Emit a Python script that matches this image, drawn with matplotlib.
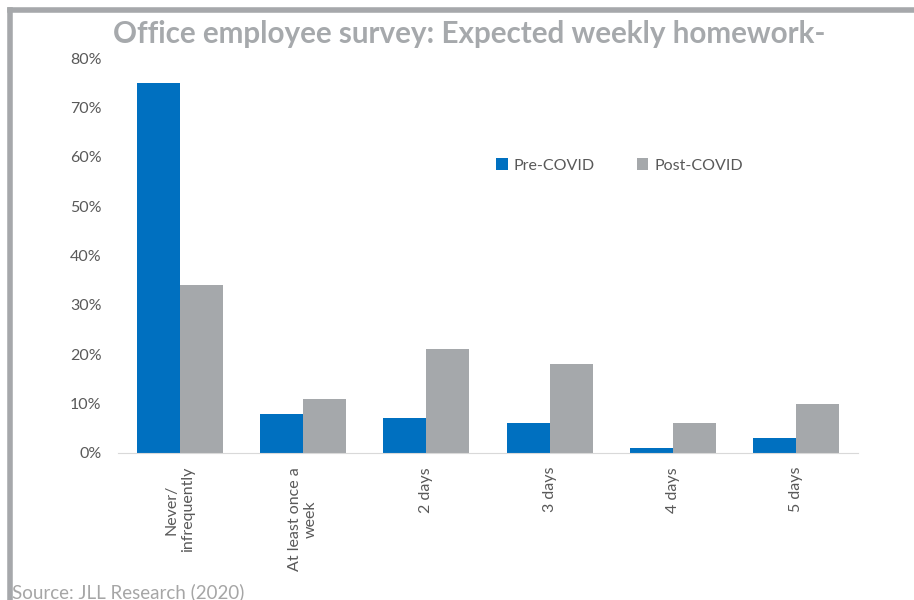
import numpy as np
import matplotlib.pyplot as plt
from matplotlib.lines import Line2D
from matplotlib.ticker import PercentFormatter

categories = ['Never/\ninfrequently', 'At least once a\nweek', '2 days', '3 days', '4 days', '5 days']
pre_covid = [75, 8, 7, 6, 1, 3]
post_covid = [34, 11, 21, 18, 6, 10]

blue = '#0070C0'
grey = '#A5A8AB'
text_grey = '#595959'

plt.rcParams['font.family'] = ['Lato', 'DejaVu Sans']

fig = plt.figure(figsize=(9.14, 6), dpi=100)
ax = fig.add_axes([118 / 914, 1 - 453 / 600, 740 / 914, 395 / 600])

x = np.arange(len(categories))
w = 0.35
ax.bar(x - w / 2, pre_covid, width=w, color=blue, label='Pre-COVID')
ax.bar(x + w / 2, post_covid, width=w, color=grey, label='Post-COVID')

ax.set_xlim(-0.5, len(categories) - 0.5)
ax.set_ylim(0, 80)
ax.set_yticks(range(0, 81, 10))
ax.yaxis.set_major_formatter(PercentFormatter(decimals=0))
ax.set_xticks(x)
ax.set_xticklabels(categories, rotation=90, ha='center', va='top', multialignment='center')
ax.tick_params(axis='both', length=0, labelsize=11.5, labelcolor=text_grey)
ax.tick_params(axis='y', pad=12)
ax.tick_params(axis='x', pad=10)

for s in ['top', 'right', 'left']:
    ax.spines[s].set_visible(False)
ax.spines['bottom'].set_color('#D9D9D9')

ax.legend(loc='upper left', bbox_to_anchor=(364 / 740, 309 / 395), ncol=2, frameon=False,
          fontsize=11.5, labelcolor=text_grey, handlelength=0.7, handleheight=0.7,
          handletextpad=0.4, columnspacing=2.6)

fig.text(113 / 914, 1 - 34 / 600, 'Office employee survey: Expected weekly homework-',
         ha='left', va='center', fontsize=21.3, fontweight='bold', color='#A6A9AC')
fig.text(12 / 914, 1 - 592 / 600, 'Source: JLL Research (2020)', ha='left', va='center',
         fontsize=13.5, color='#A6A6A6')

# grey frame lines at top and left
fig.add_artist(Line2D([10 / 914, 1], [1 - 10 / 600, 1 - 10 / 600], transform=fig.transFigure,
                      color='#A6A8AB', lw=4))
fig.add_artist(Line2D([10 / 914, 10 / 914], [0, 1 - 10 / 600], transform=fig.transFigure,
                      color='#A6A8AB', lw=4))

fig.savefig('out.png', dpi=100)
